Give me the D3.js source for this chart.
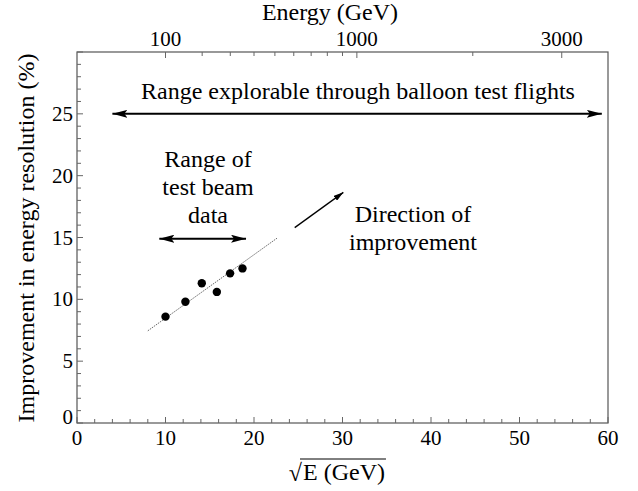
<!DOCTYPE html>
<html><head><meta charset="utf-8">
<script src="https://cdn.jsdelivr.net/npm/d3@7"></script>
<style>
html,body{margin:0;padding:0;background:#fff;}
text{font-family:'Liberation Serif', serif;}
</style></head>
<body><svg id="c" width="638" height="491"></svg>
<script>
// ---- data ----
const sqrtE = [10.0, 12.25, 14.1, 15.8, 17.3, 18.7];          // sqrt(E/GeV)
const improvement = [8.6, 9.8, 11.3, 10.6, 12.1, 12.5];        // %
const fitLine = {x: [8.0, 22.6], slope: 0.513, intercept: 3.35};
const xTicks = [0, 10, 20, 30, 40, 50, 60];
const yTicks = [0, 5, 10, 15, 20, 25];
const energyLabels = [100, 1000, 3000];
const energyMinor = [200, 300, 400, 500, 600, 700, 800, 900, 2000];
const balloonRange = [4.0, 59.3], balloonY = 25;
const beamRange = [9.3, 19.1], beamY = 14.9;
const dirArrow = [[24.6, 15.8], [30.1, 18.65]];

const svg = d3.select("#c");
const m = {l: 77, r: 608, t: 52, b: 423};
const x = d3.scaleLinear().domain([0, 60]).range([m.l, m.r]);
const y = d3.scaleLinear().domain([0, 30]).range([m.b, m.t]);
function txt(sel) { sel.style("font-family", "'Liberation Serif', serif").attr("fill", "#000"); }

// markers
const defs = svg.append("defs");
defs.append("marker").attr("id","ah").attr("viewBox","0 0 15 8").attr("refX",15).attr("refY",4)
  .attr("markerWidth",15).attr("markerHeight",8).attr("markerUnits","userSpaceOnUse").attr("orient","auto-start-reverse")
  .append("path").attr("d","M0,0 L15,4 L0,8 L3,4 Z").attr("fill","#000");
defs.append("marker").attr("id","ahs").attr("viewBox","0 0 10 6").attr("refX",10).attr("refY",3)
  .attr("markerWidth",10).attr("markerHeight",6).attr("markerUnits","userSpaceOnUse").attr("orient","auto")
  .append("path").attr("d","M0,0 L10,3 L0,6 Z").attr("fill","#000");

// frame
svg.append("rect").attr("x",m.l).attr("y",m.t).attr("width",m.r-m.l).attr("height",m.b-m.t)
  .attr("fill","none").attr("stroke","#555").attr("stroke-width",1.2);

const tickColor = "#666";
// bottom axis ticks
const xMinor = d3.range(0, 61, 2);
svg.append("g").selectAll("line").data(xMinor).join("line")
  .attr("x1",d=>x(d)).attr("x2",d=>x(d)).attr("y1",m.b).attr("y2",d=>m.b-(d%10===0?6:4))
  .attr("stroke",tickColor);
svg.append("g").selectAll("text").data(xTicks).join("text").call(txt)
  .attr("x",d=>x(d)).attr("y",m.b+22).attr("text-anchor","middle").attr("font-size",21).text(d=>d);

// left axis ticks
const yMinor = d3.range(0, 31, 1);
svg.append("g").selectAll("line").data(yMinor).join("line")
  .attr("x1",m.l).attr("x2",d=>m.l+(d%5===0?6:4)).attr("y1",d=>y(d)).attr("y2",d=>y(d))
  .attr("stroke",tickColor);
svg.append("g").selectAll("text").data(yTicks).join("text").call(txt)
  .attr("x",m.l-4).attr("y",d=>d===0? y(d)+1 : y(d)+7).attr("text-anchor","end").attr("font-size",21).text(d=>d);

// top axis (energy)
svg.append("g").selectAll("line").data(energyLabels.concat(energyMinor)).join("line")
  .attr("x1",d=>x(Math.sqrt(d))).attr("x2",d=>x(Math.sqrt(d))).attr("y1",m.t)
  .attr("y2",d=>m.t+(energyLabels.includes(d)?6:4)).attr("stroke",tickColor);
svg.append("g").selectAll("text").data(energyLabels).join("text").call(txt)
  .attr("x",d=>x(Math.sqrt(d))).attr("y",m.t-6).attr("text-anchor","middle").attr("font-size",21).text(d=>d);

// titles
svg.append("text").call(txt).attr("x",330).attr("y",20).attr("text-anchor","middle").attr("font-size",24).text("Energy (GeV)");
svg.append("text").call(txt).attr("transform",`translate(34,238) rotate(-90)`).attr("text-anchor","middle")
  .attr("font-size",24).text("Improvement in energy resolution (%)");
const xt = svg.append("g");
xt.append("text").call(txt).attr("x",302).attr("y",481).attr("text-anchor","end").attr("font-size",24).text("\u221A");
const xtxt = xt.append("text").call(txt).attr("x",303).attr("y",480).attr("font-size",24).text("E (GeV)");
const bb = xtxt.node().getBBox();
xt.append("line").attr("x1",300).attr("x2",bb.x+bb.width+1).attr("y1",459).attr("y2",459).attr("stroke","#000").attr("stroke-width",1);

// fit line
svg.append("line").attr("x1",x(fitLine.x[0])).attr("y1",y(fitLine.intercept+fitLine.slope*fitLine.x[0]))
  .attr("x2",x(fitLine.x[1])).attr("y2",y(fitLine.intercept+fitLine.slope*fitLine.x[1]))
  .attr("stroke","#444").attr("stroke-width",0.8).attr("stroke-dasharray","1.5,1");

// points
svg.append("g").selectAll("circle").data(sqrtE).join("circle")
  .attr("cx",d=>x(d)).attr("cy",(d,i)=>y(improvement[i])).attr("r",4.2).attr("fill","#000");

// arrows
svg.append("line").attr("x1",x(balloonRange[0])).attr("x2",x(balloonRange[1])).attr("y1",y(balloonY)).attr("y2",y(balloonY))
  .attr("stroke","#000").attr("stroke-width",2).attr("marker-start","url(#ah)").attr("marker-end","url(#ah)");
svg.append("line").attr("x1",x(beamRange[0])).attr("x2",x(beamRange[1])).attr("y1",y(beamY)).attr("y2",y(beamY))
  .attr("stroke","#000").attr("stroke-width",2).attr("marker-start","url(#ah)").attr("marker-end","url(#ah)");
svg.append("line").attr("x1",x(dirArrow[0][0])).attr("y1",y(dirArrow[0][1])).attr("x2",x(dirArrow[1][0])).attr("y2",y(dirArrow[1][1]))
  .attr("stroke","#000").attr("stroke-width",1.3).attr("marker-end","url(#ahs)");

// annotations
svg.append("text").call(txt).attr("x",358).attr("y",99).attr("text-anchor","middle").attr("font-size",24)
  .text("Range explorable through balloon test flights");
const t1 = svg.append("text").call(txt).attr("text-anchor","middle").attr("font-size",24);
["Range of","test beam","data"].forEach((s,i)=>t1.append("tspan").attr("x",208).attr("y",167+i*28).text(s));
const t2 = svg.append("text").call(txt).attr("text-anchor","middle").attr("font-size",24);
["Direction of","improvement"].forEach((s,i)=>t2.append("tspan").attr("x",413).attr("y",222+i*28).text(s));
</script></body></html>
